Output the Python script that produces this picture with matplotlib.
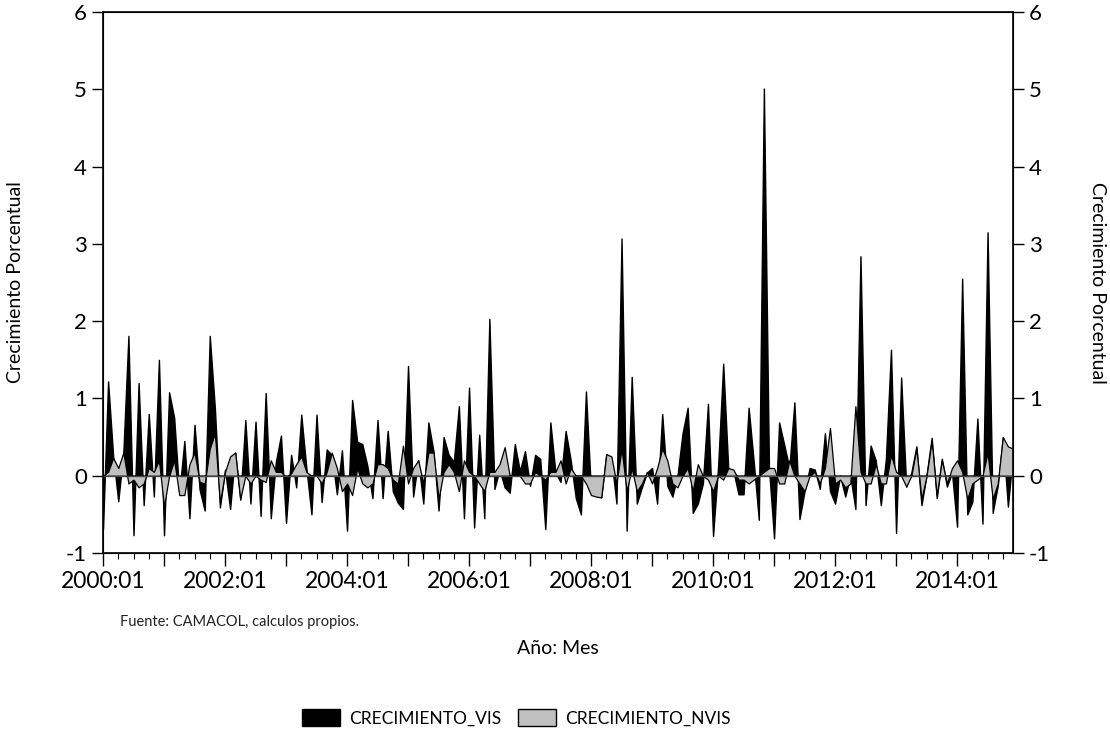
import matplotlib
matplotlib.use('Agg')
import matplotlib.pyplot as plt
from matplotlib.patches import Patch
import numpy as np

plt.rcParams['font.family'] = ['Lato', 'DejaVu Sans']
plt.rcParams['axes.unicode_minus'] = False

# monthly growth, 2000:01 - 2014:12 (one row per year)
crecimiento_vis = [
    -0.69, 1.22, 0.25, -0.33, 0.30, 1.81, -0.77, 1.20, -0.38, 0.80, -0.27, 1.50,
    -0.77, 1.08, 0.75, -0.23, 0.45, -0.55, 0.66, -0.18, -0.45, 1.81, 0.88, -0.41,
    0.08, -0.43, 0.30, -0.31, 0.72, -0.36, 0.70, -0.52, 1.07, -0.55, 0.18, 0.52,
    -0.61, 0.27, -0.15, 0.79, 0.10, -0.50, 0.79, -0.34, 0.34, 0.27, -0.24, 0.33,
    -0.71, 0.98, 0.44, 0.41, 0.13, -0.29, 0.72, -0.29, 0.58, -0.20, -0.35, -0.43,
    1.42, -0.27, 0.20, -0.36, 0.69, 0.32, -0.45, 0.50, 0.27, 0.18, 0.90, -0.55,
    1.14, -0.67, 0.53, -0.55, 2.03, -0.17, 0.08, -0.15, -0.22, 0.41, 0.06, 0.32,
    -0.13, 0.27, 0.22, -0.69, 0.69, 0.04, -0.08, 0.58, 0.20, -0.29, -0.50, 1.09,
    -0.22, -0.24, -0.28, 0.28, 0.22, -0.36, 3.07, -0.71, 1.28, -0.36, -0.15, 0.04,
    0.10, -0.36, 0.80, -0.13, -0.27, 0.00, 0.55, 0.88, -0.48, -0.36, -0.10, 0.93,
    -0.78, 0.13, 1.45, 0.08, 0.06, -0.24, -0.24, 0.88, 0.18, -0.57, 5.01, 0.10,
    -0.81, 0.69, 0.40, 0.10, 0.95, -0.56, -0.20, 0.10, 0.08, -0.17, 0.55, -0.20,
    -0.36, 0.00, -0.27, 0.00, -0.43, 2.84, -0.38, 0.39, 0.20, -0.38, 0.22, 1.63,
    -0.74, 1.27, -0.14, 0.04, 0.38, -0.38, 0.01, 0.49, -0.29, 0.22, -0.14, 0.04,
    -0.66, 2.55, -0.50, -0.34, 0.74, -0.62, 3.15, -0.48, -0.13, 0.50, -0.40, 0.30,
]
crecimiento_nvis = [
    0.00, 0.05, 0.23, 0.10, 0.30, -0.10, -0.05, -0.15, -0.10, 0.10, 0.05, 0.20,
    -0.40, 0.00, 0.20, -0.25, -0.25, 0.15, 0.30, -0.08, -0.10, 0.35, 0.55, -0.35,
    0.05, 0.25, 0.30, -0.30, 0.00, -0.10, 0.00, -0.05, -0.08, 0.20, 0.05, 0.05,
    -0.02, 0.03, 0.15, 0.25, 0.05, 0.00, 0.00, -0.10, 0.05, 0.30, 0.10, -0.20,
    -0.10, -0.25, 0.10, -0.10, -0.15, -0.10, 0.15, 0.15, 0.10, -0.05, -0.10, 0.39,
    -0.10, 0.10, 0.20, -0.10, 0.30, 0.30, -0.30, 0.05, 0.15, 0.05, -0.20, 0.20,
    0.05, 0.00, -0.10, -0.20, 0.05, 0.05, 0.15, 0.37, 0.00, 0.00, 0.00, -0.10,
    -0.10, 0.05, 0.00, -0.05, 0.05, 0.05, 0.20, -0.10, 0.10, 0.00, 0.00, -0.10,
    -0.25, -0.27, -0.28, 0.28, 0.25, -0.10, 0.35, -0.20, 0.10, -0.20, -0.10, 0.05,
    -0.10, 0.10, 0.35, 0.20, -0.10, -0.15, 0.00, 0.10, -0.20, 0.15, 0.00, -0.05,
    -0.20, 0.00, -0.05, 0.10, 0.08, -0.05, -0.05, -0.10, -0.05, 0.00, 0.05, 0.10,
    0.10, -0.10, -0.10, 0.20, 0.00, -0.10, -0.20, 0.00, 0.05, -0.10, 0.10, 0.62,
    -0.10, -0.05, -0.15, -0.10, 0.90, 0.05, -0.10, -0.10, 0.15, -0.10, -0.10, 0.27,
    0.05, 0.00, -0.14, 0.00, 0.35, -0.30, 0.00, 0.45, -0.25, 0.20, -0.10, 0.10,
    0.20, 0.05, -0.30, -0.10, -0.05, 0.00, 0.30, -0.30, -0.10, 0.50, 0.38, 0.35,
]
year_labels = ['2000:01', '', '2002:01', '', '2004:01', '', '2006:01', '',
               '2008:01', '', '2010:01', '', '2012:01', '', '2014:01']
y_ticks = [-1, 0, 1, 2, 3, 4, 5, 6]

months = np.arange(len(crecimiento_vis))

fig = plt.figure(figsize=(11.1, 7.36), dpi=100)
ax = fig.add_axes([0.0928, 0.2486, 0.8198, 0.7351])

ax.fill_between(months, 0, crecimiento_vis, facecolor='black', edgecolor='black', lw=1.0)
ax.fill_between(months, 0, crecimiento_nvis, facecolor='#c0c0c0', edgecolor='black', lw=0.9)
ax.axhline(0, color='#444444', lw=1.0)

ax.set_xlim(0, len(months) - 1)
ax.set_ylim(-1, 6)
ax.set_xticks(np.arange(0, len(months), 12))
ax.set_xticklabels(year_labels)
ax.set_xticks(np.arange(0, len(months), 3), minor=True)
ax.set_yticks(y_ticks)
ax.tick_params(axis='x', which='major', direction='out', length=9, width=1, labelsize=16.5, pad=4)
ax.tick_params(axis='x', which='minor', direction='out', length=4, width=0.8)
ax.tick_params(axis='y', direction='out', length=8, width=1, labelsize=16)
for s in ax.spines.values():
    s.set_linewidth(1.2)
ax.set_ylabel('Crecimiento Porcentual', fontsize=14, labelpad=30)

ax2 = ax.twinx()
ax2.set_ylim(-1, 6)
ax2.set_yticks(y_ticks)
ax2.tick_params(axis='y', direction='out', length=8, width=1, labelsize=16)
ax2.set_ylabel('Crecimiento Porcentual', fontsize=14, rotation=270, labelpad=40)

fig.text(0.108, 1 - 622 / 736, 'Fuente: CAMACOL, calculos propios.', fontsize=10.5,
         va='center', color='#222222')
fig.text(0.503, 1 - 648 / 736, 'Año: Mes', fontsize=14, ha='center', va='center')

handles = [Patch(facecolor='black', edgecolor='black', label='CRECIMIENTO_VIS'),
           Patch(facecolor='#c0c0c0', edgecolor='black', label='CRECIMIENTO_NVIS')]
fig.legend(handles=handles, loc='center', bbox_to_anchor=(0.465, 1 - 718 / 736), ncol=2,
           frameon=False, fontsize=12.5, handlelength=2.2, handleheight=1.1,
           handletextpad=0.5, columnspacing=1.0)

plt.savefig('out.png', dpi=100)
